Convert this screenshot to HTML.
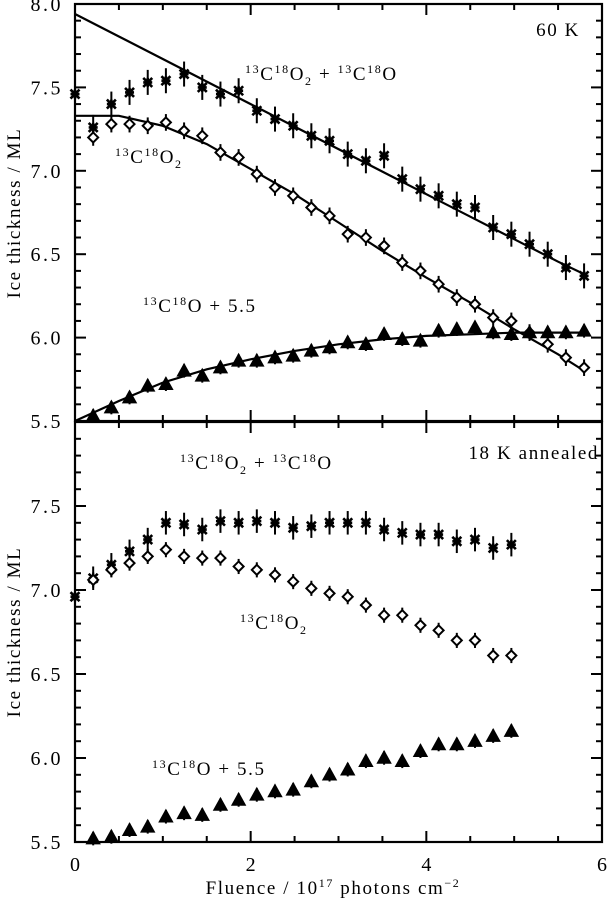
<!DOCTYPE html>
<html><head><meta charset="utf-8">
<style>
html,body{margin:0;padding:0;background:#fff;}
svg{display:block;font-family:"Liberation Serif","DejaVu Serif",serif;}
.lb{font-size:19px;letter-spacing:1.6px;}
</style></head>
<body>
<svg id="chart" width="607" height="901" viewBox="0 0 607 901" xmlns="http://www.w3.org/2000/svg">
<g id="g"></g>
<text class="lb" x="580" y="36" text-anchor="end">60  K</text>
<text class="lb" x="245" y="80"><tspan font-size="12" dy="-7">13</tspan><tspan dy="7">C</tspan><tspan font-size="12" dy="-7">18</tspan><tspan dy="7">O</tspan><tspan font-size="12" dy="5">2</tspan><tspan dy="-5"> + </tspan><tspan font-size="12" dy="-7">13</tspan><tspan dy="7">C</tspan><tspan font-size="12" dy="-7">18</tspan><tspan dy="7">O</tspan></text>
<text class="lb" x="115" y="163"><tspan font-size="12" dy="-7">13</tspan><tspan dy="7">C</tspan><tspan font-size="12" dy="-7">18</tspan><tspan dy="7">O</tspan><tspan font-size="12" dy="5">2</tspan></text>
<text class="lb" x="143" y="312"><tspan font-size="12" dy="-7">13</tspan><tspan dy="7">C</tspan><tspan font-size="12" dy="-7">18</tspan><tspan dy="7">O + 5.5</tspan></text>
<text class="lb" x="599" y="459" text-anchor="end">18 K annealed</text>
<text class="lb" x="180" y="469"><tspan font-size="12" dy="-7">13</tspan><tspan dy="7">C</tspan><tspan font-size="12" dy="-7">18</tspan><tspan dy="7">O</tspan><tspan font-size="12" dy="5">2</tspan><tspan dy="-5"> + </tspan><tspan font-size="12" dy="-7">13</tspan><tspan dy="7">C</tspan><tspan font-size="12" dy="-7">18</tspan><tspan dy="7">O</tspan></text>
<text class="lb" x="240" y="629"><tspan font-size="12" dy="-7">13</tspan><tspan dy="7">C</tspan><tspan font-size="12" dy="-7">18</tspan><tspan dy="7">O</tspan><tspan font-size="12" dy="5">2</tspan></text>
<text class="lb" x="152" y="775"><tspan font-size="12" dy="-7">13</tspan><tspan dy="7">C</tspan><tspan font-size="12" dy="-7">18</tspan><tspan dy="7">O + 5.5</tspan></text>
<text class="lb" x="333" y="894" text-anchor="middle">Fluence / 10<tspan font-size="12" dy="-7">17</tspan><tspan dy="7"> photons cm</tspan><tspan font-size="12" dy="-7">−2</tspan></text>
<text class="lb" transform="translate(20,213) rotate(-90)" text-anchor="middle">Ice thickness / ML</text>
<text class="lb" transform="translate(20,632) rotate(-90)" text-anchor="middle">Ice thickness / ML</text>
</svg>
<script>
const topSum=[7.46,7.26,7.40,7.47,7.53,7.54,7.58,7.50,7.46,7.48,7.36,7.31,7.27,7.21,7.18,7.10,7.06,7.09,6.95,6.89,6.85,6.80,6.78,6.66,6.62,6.56,6.50,6.42,6.37];
const topCO2=[null,7.20,7.28,7.28,7.27,7.29,7.24,7.21,7.11,7.08,6.98,6.90,6.85,6.78,6.73,6.62,6.60,6.55,6.45,6.40,6.32,6.24,6.20,6.12,6.10,6.03,5.96,5.88,5.82];
const topCO=[null,5.53,5.58,5.64,5.71,5.72,5.80,5.77,5.82,5.86,5.86,5.88,5.89,5.92,5.94,5.97,5.96,6.02,5.99,5.98,6.04,6.05,6.06,6.03,6.02,6.03,6.03,6.03,6.04];
const botSum=[6.96,7.07,7.15,7.23,7.30,7.40,7.39,7.36,7.41,7.40,7.41,7.40,7.37,7.38,7.40,7.40,7.40,7.36,7.34,7.33,7.33,7.29,7.30,7.25,7.27];
const botCO2=[null,7.06,7.12,7.16,7.20,7.24,7.20,7.19,7.19,7.14,7.12,7.09,7.05,7.01,6.98,6.96,6.91,6.85,6.85,6.79,6.76,6.70,6.70,6.61,6.61];
const botCO=[null,5.52,5.53,5.57,5.59,5.65,5.67,5.66,5.72,5.75,5.78,5.80,5.81,5.86,5.90,5.93,5.98,6.00,5.98,6.04,6.08,6.08,6.10,6.13,6.16];
const fitX=[0,0.5,1,1.5,2,2.5,3,3.5,4,4.5,5,5.5,5.8];
const fitSum=[7.94,7.805,7.67,7.535,7.40,7.265,7.13,6.995,6.86,6.725,6.59,6.455,6.38];
const fitCO2=[7.33,7.33,7.27,7.16,7.01,6.86,6.69,6.52,6.36,6.21,6.05,5.90,5.80];
const fitCO=[5.50,5.62,5.73,5.81,5.87,5.92,5.96,5.99,6.01,6.02,6.03,6.03,6.03];
const xStep=0.207;
const xTicks=[0,2,4,6];
const yTicks=[5.5,6.0,6.5,7.0,7.5,8.0];

const NS="http://www.w3.org/2000/svg";
const g=document.getElementById('g');
const X0=75,X1=602;
const sx=v=>X0+v*(X1-X0)/6;
const panels=[{top:4,bot:421},{top:422,bot:842}];
function sy(p,v){return p.bot-(v-5.5)*(p.bot-p.top)/2.5;}
function el(tag,attrs){const e=document.createElementNS(NS,tag);for(const k in attrs)e.setAttribute(k,attrs[k]);g.appendChild(e);return e;}

panels.forEach((p,pi)=>{
  const fr=el('rect',{x:X0,y:p.top,width:X1-X0,height:p.bot-p.top,fill:'none',stroke:'#000','stroke-width':2.2});
  
  
  for(let k=0;k<=25;k++){
    const v=5.5+k*0.1; const y=sy(p,v); const major=k%5===0; const L=major?11:6;
    const t1=el('line',{x1:X0,x2:X0+L,y1:y,y2:y,stroke:'#000','stroke-width':2});
    
    
    const t2=el('line',{x1:X1,x2:X1-L,y1:y,y2:y,stroke:'#000','stroke-width':2});
    
    
  }
  yTicks.forEach(v=>{
    if(pi===1&&v===8.0)return;
    const t=el('text',{x:X0-12,y:sy(p,v)+7,'font-size':20,'letter-spacing':2.5,'text-anchor':'end'});
    t.textContent=v.toFixed(1);
    
    
  });
  for(let k=1;k<12;k++){
    const x=sx(k*0.5); const major=k%4===0; const L=major?11:6;
    const a=el('line',{x1:x,x2:x,y1:p.bot,y2:p.bot-L,stroke:'#000','stroke-width':2});
    
    
    const b=el('line',{x1:x,x2:x,y1:p.top,y2:p.top+L,stroke:'#000','stroke-width':2});
    
    
  }
});
xTicks.forEach(v=>{
  const t=el('text',{x:sx(v),y:871,'font-size':20,'text-anchor':'middle'});
  t.textContent=v;
  
  
});
function fit(p,ys,name){
  const d=fitX.map((x,i)=>(i?'L':'M')+sx(x).toFixed(1)+','+sy(p,ys[i]).toFixed(1)).join(' ');
  const e=el('path',{d:d,fill:'none',stroke:'#000','stroke-width':2.2});
  
  
}
fit(panels[0],fitSum,'fit-line-sum');
fit(panels[0],fitCO2,'fit-line-co2');
fit(panels[0],fitCO,'fit-line-co');

function series(p,ys,type,err,name){
  ys.forEach((v,i)=>{
    if(v===null)return;
    const x=sx(i*xStep), y=sy(p,v);
    const e1=sy(p,v+err), e2=sy(p,v-err);
    const eb=el('line',{x1:x,x2:x,y1:e1,y2:e2,stroke:'#000','stroke-width':2});
    
    
    let m;
    if(type==='star'){
      const r=4.5;
      m=el('path',{d:`M${x-r},${y-r}L${x+r},${y+r}M${x-r},${y+r}L${x+r},${y-r}M${x-r},${y}L${x+r},${y}M${x},${y-r}L${x},${y+r}`,stroke:'#000','stroke-width':2.6,fill:'none'});
    }else if(type==='diamond'){
      const r=5;
      m=el('path',{d:`M${x},${y-r}L${x+r},${y}L${x},${y+r}L${x-r},${y}Z`,stroke:'#000','stroke-width':2,fill:'#fff'});
    }else{
      const r=5.5;
      m=el('path',{d:`M${x},${y-r}L${x+r},${y+r*0.8}L${x-r},${y+r*0.8}Z`,stroke:'#000','stroke-width':2.6,fill:'#000'});
    }
    
    
  });
}
series(panels[0],topSum,'star',0.075,'top-sum');
series(panels[0],topCO2,'diamond',0.05,'top-co2');
series(panels[0],topCO,'tri',0.04,'top-co');
series(panels[1],botSum,'star',0.07,'bottom-sum');
series(panels[1],botCO2,'diamond',0.045,'bottom-co2');
series(panels[1],botCO,'tri',0.04,'bottom-co');
</script>
</body></html>
